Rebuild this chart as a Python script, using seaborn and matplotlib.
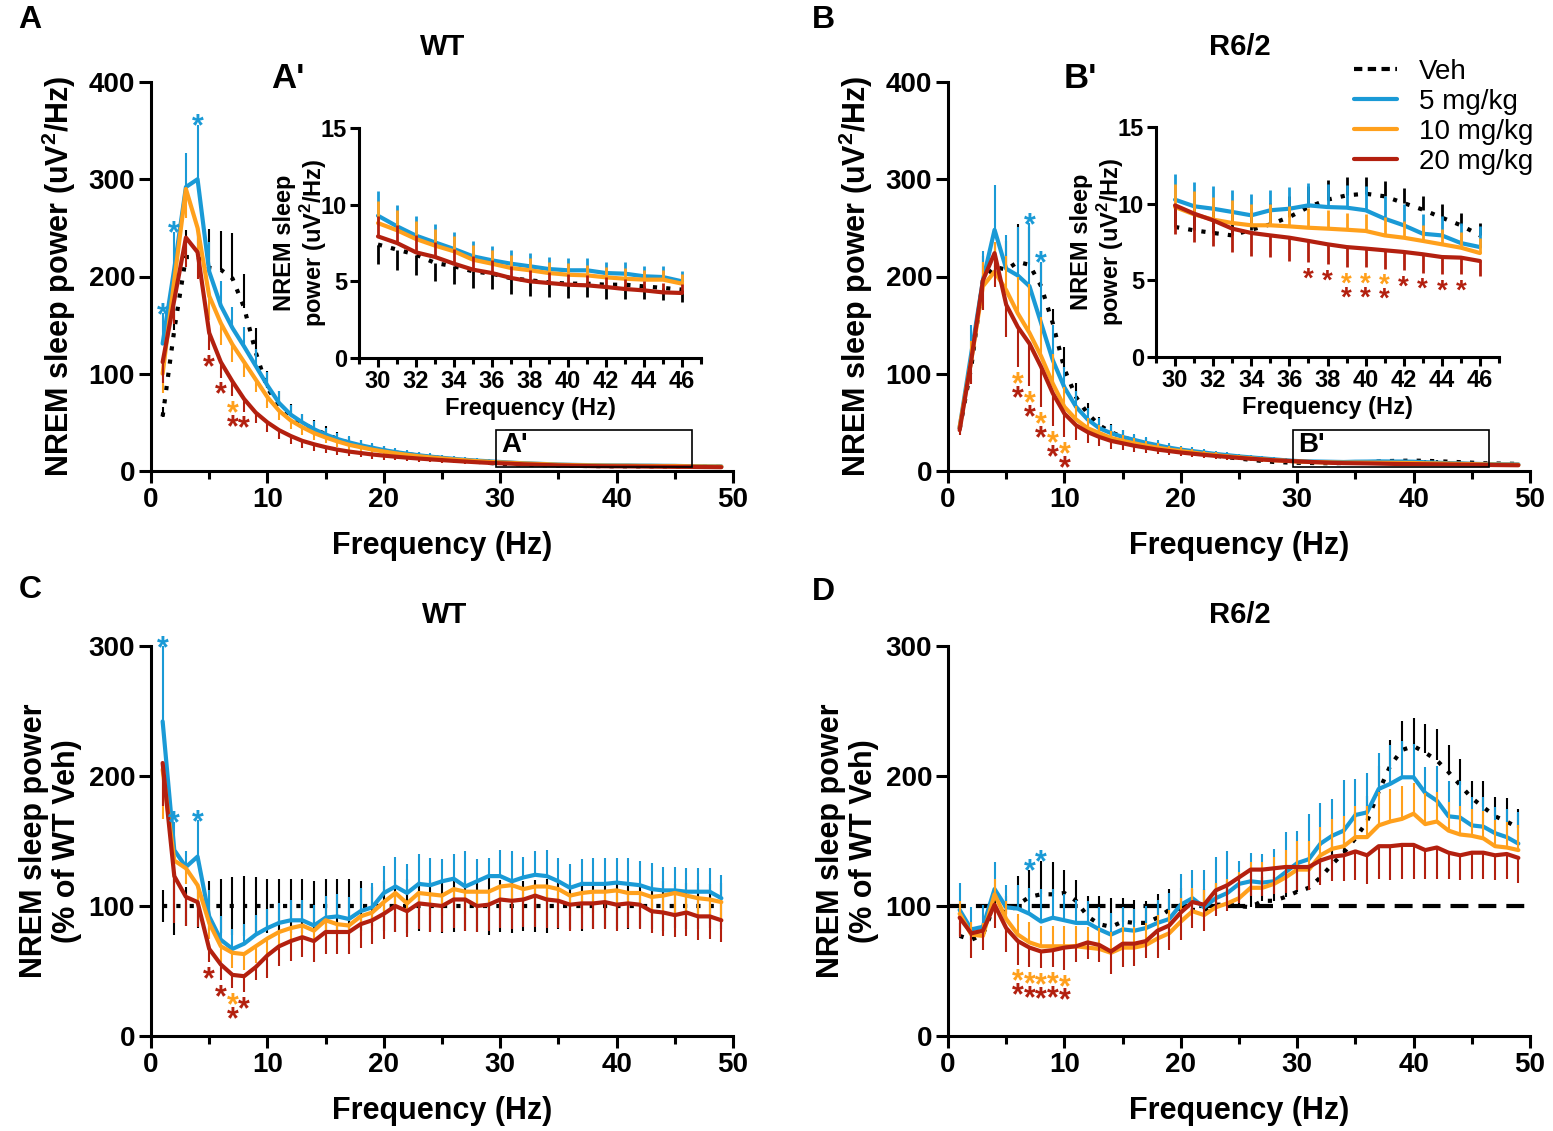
import numpy as np
import matplotlib
matplotlib.use("Agg")
import matplotlib.pyplot as plt
from matplotlib.patches import Rectangle
from matplotlib.ticker import MultipleLocator
import seaborn as sns

sns.set_style("ticks")
plt.rcParams["font.family"] = ["Liberation Sans", "DejaVu Sans"]
plt.rcParams.update({
    "font.weight": "bold",
    "axes.labelweight": "bold",
    "axes.edgecolor": "black",
    "axes.labelcolor": "black",
    "text.color": "black",
    "xtick.color": "black",
    "ytick.color": "black",
    "axes.linewidth": 2.2,
    "mathtext.fontset": "custom",
    "mathtext.rm": "Liberation Sans",
    "mathtext.bf": "Liberation Sans:bold",
})

# frequency bins (Hz)
freqs = list(range(1, 50))

# ---- WT, absolute power (uV2/Hz) ----
wt_veh = [56, 145, 220, 220, 209, 207, 198, 168, 122, 85,
          68, 57, 49, 43, 38, 33, 29, 26, 23, 21,
          19, 17.3, 15.8, 14.4, 13.1, 11.9, 10.8, 9.5, 8.3, 7.4,
          7.07, 6.74, 6.2, 5.98, 5.65, 5.5, 5.2, 5.07, 4.93, 4.85,
          4.85, 4.78, 4.78, 4.67, 4.57, 4.46, 4.4, 4.3, 4.2]
wt_veh_sem = [10, 20, 28, 30, 40, 40, 47, 35, 25, 18,
              14, 12, 10, 9, 8, 7, 6, 5.5, 5, 4.5,
              4, 3.7, 3.4, 3.1, 2.8, 2.5, 2.2, 2, 1.7, 1.3,
              1.3, 1.3, 1.2, 1.15, 1.1, 1.0, 1.0, 1.0, 0.95, 0.95,
              0.9, 0.9, 0.9, 0.85, 0.8, 0.8, 0.8, 0.75, 0.75]
wt_5 = [131, 208, 292, 300, 205, 170, 147, 128, 108, 88,
        70, 58, 50, 43, 37.5, 33, 29.5, 26.5, 24, 21.5,
        19.5, 17.8, 16.2, 14.8, 13.6, 12.5, 11.5, 10.7, 10.0, 9.28,
        8.59, 7.98, 7.54, 7.11, 6.63, 6.37, 6.15, 5.98, 5.80, 5.72,
        5.72, 5.54, 5.50, 5.33, 5.28, 5.0, 4.9, 4.8, 4.7]
wt_5_sem = [31, 38, 35, 56, 30, 25, 22, 20, 17, 14,
            12, 10, 9, 8, 7, 6.5, 6, 5.5, 5, 4.5,
            4, 3.8, 3.5, 3.2, 3, 2.8, 2.5, 2.2, 2, 1.6,
            1.4, 1.3, 1.2, 1.1, 1.0, 0.95, 0.9, 0.85, 0.8, 0.8,
            0.8, 0.75, 0.75, 0.7, 0.7, 0.65, 0.6, 0.6, 0.6]
wt_10 = [100, 196, 290, 250, 180, 152, 130, 112, 94, 76,
         62, 52, 45, 39, 34.5, 30.5, 27, 24.5, 22, 20,
         18.2, 16.6, 15.2, 14, 12.9, 11.9, 11.0, 10.2, 9.5, 8.8,
         8.33, 7.76, 7.33, 6.96, 6.41, 6.15, 5.87, 5.72, 5.54, 5.43,
         5.39, 5.26, 5.17, 5.11, 5.11, 4.85, 4.7, 4.6, 4.5]
wt_10_sem = [20, 25, 30, 30, 25, 22, 18, 15, 13, 11,
             10, 9, 8, 7, 6, 5.5, 5, 4.5, 4, 3.8,
             3.5, 3.2, 3, 2.8, 2.5, 2.3, 2.1, 1.9, 1.7, 1.45,
             1.3, 1.2, 1.1, 1.0, 0.95, 0.9, 0.85, 0.8, 0.75, 0.75,
             0.7, 0.7, 0.7, 0.65, 0.65, 0.6, 0.6, 0.6, 0.55]
wt_20 = [112, 176, 240, 225, 142, 112, 92, 74, 60, 50,
         42, 36, 31, 27.5, 24.5, 22, 20, 18.5, 17, 15.8,
         14.7, 13.7, 12.8, 12, 11.2, 10.4, 9.7, 9.0, 8.4, 7.93,
         7.5, 6.89, 6.59, 6.15, 5.76, 5.54, 5.22, 5.0, 4.89, 4.78,
         4.74, 4.63, 4.5, 4.41, 4.28, 4.24, 4.1, 4.0, 3.9]
wt_20_sem = [22, 25, 30, 28, 18, 16, 15, 13, 11, 10,
             9, 8, 7, 6.5, 6, 5.5, 5, 4.5, 4.2, 4,
             3.7, 3.4, 3.1, 2.9, 2.7, 2.5, 2.2, 2, 1.8, 1.3,
             1.2, 1.1, 1.0, 0.95, 0.9, 0.85, 0.8, 0.75, 0.7, 0.7,
             0.65, 0.65, 0.65, 0.6, 0.6, 0.6, 0.55, 0.55, 0.5]

# ---- R6/2, absolute power (uV2/Hz) ----
r62_veh = [43, 107, 196, 210, 207, 215, 212, 190, 152, 105,
           76, 59, 47, 40, 35, 31, 28, 25, 22.5, 20.5,
           18.8, 17.2, 15.7, 14.2, 12.8, 11.5, 10.3, 9.3, 8.8, 8.48,
           8.26, 8.09, 7.93, 8.30, 8.65, 9.13, 9.78, 10.26, 10.54, 10.65,
           10.48, 10.04, 9.61, 9.09, 8.59, 7.93, 7.7, 7.5, 7.3]
r62_veh_sem = [5, 15, 25, 25, 30, 39, 39, 25, 15, 22,
               15, 11, 9, 8, 7, 6, 5.5, 5, 4.5, 4,
               3.7, 3.4, 3.1, 2.8, 2.5, 2.2, 2, 1.8, 1.6, 1.5,
               1.5, 1.45, 1.4, 1.4, 1.4, 1.4, 1.4, 1.3, 1.2, 1.1,
               1.0, 0.95, 0.9, 0.9, 0.8, 0.8, 0.8, 0.8, 0.8]
r62_5 = [45, 121, 196, 248, 208, 201, 190, 152, 114, 86,
         66, 53, 44, 39, 35, 32, 29, 26.5, 24, 22,
         20.5, 19, 17.5, 16.3, 15, 14, 13, 12, 11, 10.26,
         9.83, 9.67, 9.46, 9.24, 9.57, 9.67, 9.89, 9.78, 9.74, 9.57,
         9.02, 8.59, 8.04, 7.93, 7.43, 7.17, 7.0, 6.9, 6.8]
r62_5_sem = [8, 29, 30, 46, 35, 50, 65, 63, 36, 21,
             16, 12, 10, 8, 7, 6, 5.5, 5, 4.5, 4,
             3.8, 3.5, 3.2, 3, 2.8, 2.5, 2.3, 2.1, 1.9, 1.7,
             1.6, 1.5, 1.45, 1.4, 1.35, 1.4, 1.45, 1.5, 1.5, 1.55,
             1.5, 1.4, 1.3, 1.25, 1.3, 1.4, 1.3, 1.3, 1.3]
r62_10 = [45, 114, 190, 205, 186, 162, 142, 118, 90, 66,
          53, 44, 39, 34, 31, 28.5, 26, 24, 22, 20.5,
          19, 17.5, 16.3, 15, 14, 13, 12, 11.2, 10.5, 9.78,
          9.3, 8.96, 8.74, 8.59, 8.59, 8.52, 8.43, 8.37, 8.30, 8.22,
          7.93, 7.78, 7.57, 7.35, 7.13, 6.78, 6.6, 6.5, 6.4]
r62_10_sem = [6, 20, 25, 30, 35, 37, 50, 40, 30, 20,
              14, 10, 8, 7, 6, 5.5, 5, 4.5, 4, 3.7,
              3.4, 3.1, 2.9, 2.7, 2.5, 2.3, 2.1, 1.9, 1.7, 1.5,
              1.5, 1.5, 1.5, 1.4, 1.4, 1.35, 1.3, 1.2, 1.1, 1.1,
              1.2, 1.1, 1.05, 1.0, 1.0, 1.0, 1.0, 1.0, 1.0]
r62_20 = [42, 114, 196, 224, 171, 148, 131, 107, 80, 59,
          47, 40, 35, 31, 28.5, 26, 24, 22, 20.5, 19,
          17.8, 16.6, 15.5, 14.5, 13.5, 12.6, 11.8, 11, 10.5, 9.89,
          9.35, 8.91, 8.37, 8.09, 7.93, 7.78, 7.57, 7.35, 7.17, 7.07,
          6.96, 6.85, 6.7, 6.52, 6.48, 6.26, 6.1, 6.0, 5.9]
r62_20_sem = [5, 25, 30, 35, 33, 41, 44, 41, 34, 24,
              15, 11, 9, 8, 7, 6, 5.5, 5, 4.5, 4,
              3.7, 3.4, 3.1, 2.9, 2.7, 2.5, 2.3, 2.1, 2, 1.85,
              1.85, 1.7, 1.5, 1.5, 1.4, 1.5, 1.4, 1.3, 1.3, 1.2,
              1.2, 1.2, 1.2, 1.1, 1.05, 0.95, 0.95, 0.9, 0.9]

# ---- WT, % of WT Veh ----
wt_pct_veh = [100, 100, 100, 100, 100, 100, 100, 100, 100, 100,
              100, 100, 100, 100, 100, 100, 100, 100, 100, 100,
              100, 100, 100, 100, 100, 100, 100, 100, 100, 100,
              100, 100, 100, 100, 100, 100, 100, 100, 100, 100,
              100, 100, 100, 100, 100, 100, 100, 100, 100]
wt_pct_veh_sem = [12, 22, 15, 17, 19, 20.5, 22, 23, 22, 21,
                  20.5, 20.5, 20.5, 19, 20.5, 20.5, 21, 19, 15, 19,
                  20, 21, 19, 20, 21, 20, 19, 20, 22, 20,
                  21, 19, 20, 21, 18, 18, 19, 18, 17, 18,
                  18, 17, 18, 19, 17, 18, 18, 17, 18]
wt_pct_5 = [242, 143, 130, 138, 92, 74, 67, 71, 78, 83,
            87, 89, 89, 85, 91, 92, 90, 96, 99, 110,
            115, 110, 117, 116, 119, 121, 115, 119, 123, 123,
            119, 122, 124, 123, 119, 114, 117, 117, 117, 118,
            117, 116, 113, 112, 112, 111, 111, 111, 106]
wt_pct_5_sem = [58, 22, 12, 28, 20, 18, 15, 15, 15, 15,
                15, 16, 16, 16, 17, 17, 17, 18, 19, 21,
                23, 22, 23, 21, 17, 19, 27, 17, 14, 20,
                23, 16, 18, 20, 18, 18, 19, 20, 20, 19,
                20, 19, 20, 18, 18, 18, 18, 18, 18]
wt_pct_10 = [205, 135, 129, 116, 87, 69, 64, 63, 69, 75,
             80, 83, 85, 81, 89, 86, 85, 92, 95, 103,
             110, 102, 110, 109, 108, 113, 111, 111, 111, 115,
             116, 113, 115, 115, 113, 108, 110, 111, 111, 112,
             110, 110, 107, 108, 110, 108, 106, 105, 103]
wt_pct_10_sem = [38, 15, 12, 12, 12, 12, 12, 12, 13, 13,
                 14, 14, 14, 14, 14, 14, 14, 15, 15, 15,
                 16, 16, 16, 16, 16, 16, 17, 16, 16, 17,
                 17, 16, 17, 17, 16, 16, 16, 16, 16, 16,
                 16, 15, 15, 15, 15, 15, 15, 15, 15]
wt_pct_20 = [210, 123, 107, 103, 67, 55, 47, 46, 53, 62,
             69, 73, 76, 73, 80, 80, 80, 86, 89, 94,
             100, 96, 102, 101, 100, 105, 105, 100, 101, 105,
             104, 105, 108, 105, 104, 101, 102, 102, 103, 101,
             102, 101, 96, 95, 93, 95, 92, 92, 89]
wt_pct_20_sem = [33, 36, 22, 19, 10, 12, 10, 12, 10, 17,
                 15, 15, 15, 16, 17, 17, 17, 18, 18, 19,
                 20, 20, 20, 21, 20, 22, 24, 20, 20, 22,
                 22, 21, 24, 22, 21, 20, 20, 20, 21, 20,
                 19, 19, 17, 18, 17, 18, 18, 17, 17]

# ---- R6/2, % of WT Veh ----
r62_pct_veh = [77, 74, 78, 101, 94, 101, 107, 109, 109, 110,
               104, 92, 86, 84, 88, 87, 87, 91, 97, 98,
               97, 97, 101, 101, 100, 99, 104, 104, 107, 111,
               114, 122, 132, 141, 152, 165, 188, 208, 220, 223,
               218, 212, 203, 193, 183, 176, 169, 165, 160]
r62_pct_veh_sem = [10, 10, 10, 12, 14, 22, 21, 26, 25, 18,
                   16, 16, 22, 22, 18, 18, 17, 18, 16, 16,
                   16, 16, 17, 18, 18, 18, 18, 18, 18, 18,
                   18, 18, 19, 20, 20, 20, 20, 20, 22, 22,
                   22, 24, 21, 20, 13, 20, 15, 18, 15]
r62_pct_5 = [97, 82, 84, 113, 99, 98, 94, 88, 91, 89,
             87, 87, 82, 78, 82, 81, 83, 87, 90, 101,
             106, 99, 106, 110, 117, 119, 118, 119, 126, 133,
             136, 148, 154, 158, 170, 172, 190, 194, 199, 199,
             187, 181, 169, 168, 162, 161, 156, 153, 148]
r62_pct_5_sem = [21, 17, 17, 21, 17, 18, 20, 25, 22, 20,
                 18, 17, 17, 17, 17, 17, 17, 18, 20, 24,
                 22, 29, 32, 32, 18, 22, 22, 25, 31, 25,
                 35, 31, 28, 39, 28, 30, 28, 30, 28, 26,
                 20, 27, 27, 28, 22, 23, 20, 22, 24]
r62_pct_10 = [94, 78, 77, 109, 90, 78, 72, 69, 69, 69,
              69, 68, 67, 64, 68, 68, 70, 75, 79, 88,
              96, 93, 99, 102, 106, 114, 114, 117, 122, 128,
              128, 139, 144, 146, 153, 153, 162, 165, 167, 171,
              163, 165, 158, 155, 154, 152, 146, 145, 143]
r62_pct_10_sem = [10, 10, 10, 12, 14, 16, 16, 16, 16, 16,
                  16, 16, 16, 16, 16, 16, 17, 18, 18, 18,
                  18, 19, 19, 19, 20, 20, 20, 21, 21, 22,
                  22, 22, 23, 23, 24, 24, 26, 25, 25, 24,
                  24, 23, 22, 22, 21, 21, 20, 20, 19]
r62_pct_20 = [91, 79, 81, 101, 83, 73, 68, 65, 66, 68,
              69, 72, 70, 65, 71, 71, 73, 81, 85, 95,
              103, 101, 112, 116, 122, 128, 128, 129, 130, 130,
              130, 135, 138, 139, 142, 139, 146, 146, 147, 147,
              143, 145, 141, 139, 141, 141, 139, 140, 137]
r62_pct_20_sem = [15, 19, 15, 18, 18, 18, 15, 13, 13, 17,
                  12, 13, 13, 17, 18, 17, 13, 21, 19, 21,
                  20, 20, 20, 20, 20, 20, 20, 20, 20, 18,
                  18, 19, 19, 20, 22, 22, 25, 26, 26, 26,
                  22, 24, 20, 19, 20, 20, 19, 19, 19]

SERIES = ["Veh", "5 mg/kg", "10 mg/kg", "20 mg/kg"]
COLORS = {"Veh": "black", "5 mg/kg": "#1a9ad6",
          "10 mg/kg": "#ffa01c", "20 mg/kg": "#b3200f"}

panels = {
    "A": (dict(zip(SERIES, [wt_veh, wt_5, wt_10, wt_20])),
          dict(zip(SERIES, [wt_veh_sem, wt_5_sem, wt_10_sem, wt_20_sem]))),
    "B": (dict(zip(SERIES, [r62_veh, r62_5, r62_10, r62_20])),
          dict(zip(SERIES, [r62_veh_sem, r62_5_sem, r62_10_sem, r62_20_sem]))),
    "C": (dict(zip(SERIES, [wt_pct_veh, wt_pct_5, wt_pct_10, wt_pct_20])),
          dict(zip(SERIES, [wt_pct_veh_sem, wt_pct_5_sem, wt_pct_10_sem, wt_pct_20_sem]))),
    "D": (dict(zip(SERIES, [r62_pct_veh, r62_pct_5, r62_pct_10, r62_pct_20])),
          dict(zip(SERIES, [r62_pct_veh_sem, r62_pct_5_sem, r62_pct_10_sem, r62_pct_20_sem]))),
}

# which side the error bars are drawn on (as in the original graph)
err_dirs = {
    "A": {"Veh": "up", "5 mg/kg": "up", "10 mg/kg": "down", "20 mg/kg": "down"},
    "A'": {"Veh": "down", "5 mg/kg": "up", "10 mg/kg": "up", "20 mg/kg": "up"},
    "B": {"Veh": "up", "5 mg/kg": "up", "10 mg/kg": "up", "20 mg/kg": "down"},
    "C": {"Veh": "both", "5 mg/kg": "up", "10 mg/kg": "down", "20 mg/kg": "down"},
    "D": {"Veh": "up", "5 mg/kg": "up", "10 mg/kg": "up", "20 mg/kg": "down"},
}
err_dirs["B'"] = err_dirs["B"]

# significance marks: freqs with * above (5 mg/kg) and below (list of doses)
sig_up = {"A": [1, 2, 4], "B": [7, 8], "C": [1, 2, 4], "D": [7, 8]}
sig_down = {
    "A": {5: ["20 mg/kg"], 6: ["20 mg/kg"], 7: ["10 mg/kg", "20 mg/kg"], 8: ["20 mg/kg"]},
    "B": {f: ["10 mg/kg", "20 mg/kg"] for f in [6, 7, 8, 9, 10]},
    "B'": {37: ["20 mg/kg"], 38: ["20 mg/kg"], 39: ["10 mg/kg", "20 mg/kg"],
           40: ["10 mg/kg", "20 mg/kg"], 41: ["10 mg/kg", "20 mg/kg"],
           42: ["20 mg/kg"], 43: ["20 mg/kg"], 44: ["20 mg/kg"], 45: ["20 mg/kg"]},
    "C": {5: ["20 mg/kg"], 6: ["20 mg/kg"], 7: ["10 mg/kg", "20 mg/kg"], 8: ["20 mg/kg"]},
    "D": {f: ["10 mg/kg", "20 mg/kg"] for f in [6, 7, 8, 9, 10]},
}

W, H = 1553, 1131
fig = plt.figure(figsize=(W / 100, H / 100), dpi=100)


def px_axes(x0, y0, x1, y1):
    return fig.add_axes([x0 / W, 1 - y1 / H, (x1 - x0) / W, (y1 - y0) / H])


def bar_ends(means, sems, dirs):
    f = np.array(freqs)
    tops, bots = {}, {}
    for name in SERIES:
        m = np.array(means[name], float)
        e = np.array(sems[name], float)
        d = dirs[name]
        tops[name] = m + e if d in ("up", "both") else m
        bots[name] = m - e if d in ("down", "both") else m
    return f, tops, bots


def draw_series(ax, key, dirs, lo=1, hi=49, lw=3.0, elw=1.5):
    means, sems = panels[key]
    f, tops, bots = bar_ends(means, sems, dirs)
    sel = (f >= lo) & (f <= hi)
    for name in SERIES:
        c = COLORS[name]
        m = np.array(means[name], float)
        ax.vlines(f[sel], bots[name][sel], tops[name][sel], color=c, lw=elw)
        ls = (0, (1, 2.2)) if name == "Veh" else "-"
        sns.lineplot(x=f[sel], y=m[sel], ax=ax, color=c, lw=lw, linestyle=ls,
                     errorbar=None, legend=False, label=name)


def draw_stars(ax, key, skey, dirs, size=22):
    means, sems = panels[key]
    f, tops, bots = bar_ends(means, sems, dirs)
    for fr in sig_up.get(skey, []):
        anchor = max(tops[n][fr - 1] for n in SERIES)
        ax.annotate("*", (fr, anchor), xytext=(0, 5 - 0.58 * size),
                    textcoords="offset points", ha="center", va="baseline",
                    color=COLORS["5 mg/kg"], fontsize=size, fontweight="bold")
    for fr, names in sig_down.get(skey, {}).items():
        anchor = min(bots[n][fr - 1] for n in SERIES)
        for k, n in enumerate(names):
            ax.annotate("*", (fr, anchor), xytext=(0, -(6 + 10 * k) - 0.58 * size),
                        textcoords="offset points", ha="center", va="baseline",
                        color=COLORS[n], fontsize=size, fontweight="bold")


def style_main(ax, ymax, ystep):
    ax.set_xlim(0, 50)
    ax.set_ylim(0, ymax)
    ax.set_xticks(range(0, 51, 10))
    ax.xaxis.set_minor_locator(MultipleLocator(5))
    ax.set_yticks(range(0, ymax + 1, ystep))
    sns.despine(ax=ax)
    ax.tick_params(which="major", length=8.5, width=2.2, labelsize=20, pad=3)
    ax.tick_params(which="minor", length=5.5, width=2.2)
    ax.set_xlabel("Frequency (Hz)", fontsize=22)
    ax.xaxis.set_label_coords(0.5, -0.155)


def style_inset(ax):
    ax.set_facecolor("none")
    ax.set_xlim(29, 47)
    ax.set_ylim(0, 15)
    ax.set_xticks(range(30, 47, 2))
    ax.xaxis.set_minor_locator(MultipleLocator(1))
    ax.set_yticks([0, 5, 10, 15])
    sns.despine(ax=ax)
    ax.tick_params(which="major", length=6.5, width=2.2, labelsize=17, pad=2)
    ax.tick_params(which="minor", length=4.5, width=2.2)
    ax.set_xlabel("Frequency (Hz)", fontsize=17)
    ax.xaxis.set_label_coords(0.5, -0.17)
    ax.set_ylabel("NREM sleep\npower (uV$^{\\mathbf{2}}$/Hz)", fontsize=17, linespacing=1.1)
    ax.yaxis.set_label_coords(-0.088, 0.5)


axA = px_axes(151, 82, 733, 471)
axB = px_axes(948, 82, 1530, 471)
axC = px_axes(151, 646, 733, 1036)
axD = px_axes(948, 646, 1530, 1036)
insA = px_axes(359, 128, 701, 358)
insB = px_axes(1156, 127, 1499, 357)

# main absolute-power panels
for ax, key in [(axA, "A"), (axB, "B")]:
    draw_series(ax, key, err_dirs[key])
    style_main(ax, 400, 100)
    ax.set_ylabel("NREM sleep power (uV$^{\\mathbf{2}}$/Hz)", fontsize=22)
    ax.yaxis.set_label_coords(-0.125, 0.5)
    draw_stars(ax, key, key, err_dirs[key])

# zoom boxes marking the inset range
zoom_lo, zoom_hi = 29.6, 46.5
for ax, lab in [(axA, "A'"), (axB, "B'")]:
    ax.add_patch(Rectangle((zoom_lo, 4), zoom_hi - zoom_lo, 38, fill=False,
                           ec="black", lw=1.2, zorder=5))
    ax.text(zoom_lo + 0.5, 40, lab, ha="left", va="top", fontsize=20, zorder=6)

# insets
for ax, key, ikey in [(insA, "A", "A'"), (insB, "B", "B'")]:
    draw_series(ax, key, err_dirs[ikey], lo=30, hi=46, lw=3.0, elw=2.0)
    style_inset(ax)
    draw_stars(ax, key, ikey, err_dirs[ikey], size=20)

# normalised panels
for ax, key in [(axC, "C"), (axD, "D")]:
    if key == "D":
        ax.axhline(100, color="black", lw=3, linestyle=(0, (4.3, 2.4)), zorder=1)
    draw_series(ax, key, err_dirs[key])
    style_main(ax, 300, 100)
    ax.set_ylabel("NREM sleep power\n(% of WT Veh)", fontsize=22, linespacing=1.15)
    ax.yaxis.set_label_coords(-0.118, 0.5)
    draw_stars(ax, key, key, err_dirs[key])

# legend
handles, labels = axB.get_legend_handles_labels()
leg = axB.legend(handles, labels, loc="upper left",
                 bbox_to_anchor=(1354 / W, 1 - 59 / H), bbox_transform=fig.transFigure,
                 frameon=False, borderpad=0, borderaxespad=0, handlelength=1.55,
                 handletextpad=0.8, labelspacing=0.14,
                 prop={"size": 20, "weight": "normal"})
leg.get_lines()[0].set_linestyle((0, (2, 1.3)))


# titles and panel letters
def ftext(x, y, s, size, **kw):
    fig.text(x / W, 1 - y / H, s, ha="center", va="center", fontsize=size,
             fontweight="bold", **kw)


ftext(443, 47, "WT", 21)
ftext(1240, 47, "R6/2", 21)
ftext(445, 615, "WT", 21)
ftext(1240, 615, "R6/2", 21)
ftext(30, 20, "A", 23)
ftext(823, 20, "B", 23)
ftext(30, 590, "C", 23)
ftext(823, 592, "D", 23)
ftext(288, 78, "A'", 25)
ftext(1080, 78, "B'", 25)

fig.savefig("out.png", dpi=100, facecolor="white")
